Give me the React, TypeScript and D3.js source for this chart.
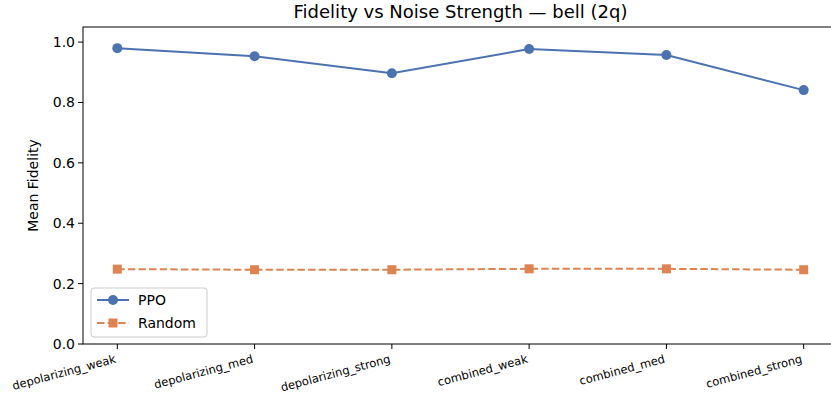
import React from "react";
import * as d3 from "d3";

const categories = [
  "depolarizing_weak",
  "depolarizing_med",
  "depolarizing_strong",
  "combined_weak",
  "combined_med",
  "combined_strong",
];
const ppoValues = [0.98, 0.953, 0.897, 0.977, 0.957, 0.841];
const randomValues = [0.248, 0.246, 0.246, 0.249, 0.249, 0.246];
const yTicks = [0.0, 0.2, 0.4, 0.6, 0.8, 1.0];

const W = 831;
const H = 404;
const M = { left: 83, right: 838, top: 27, bottom: 344 };
const BLUE = "#4C72B0";
const ORANGE = "#DD8452";
const FONT = "DejaVu Sans, sans-serif";

export default function App() {
  const x = d3
    .scaleLinear()
    .domain([-0.25, categories.length - 1 + 0.25])
    .range([M.left, M.right]);
  const y = d3.scaleLinear().domain([0, 1.05]).range([M.bottom, M.top]);

  const line = d3
    .line<number>()
    .x((_, i) => x(i))
    .y((d) => y(d));

  return (
    <svg
      width={W}
      height={H}
      style={{ position: "absolute", left: 0, top: 0, background: "#fff" }}
      fontFamily={FONT}
    >
      <rect x={0} y={0} width={W} height={H} fill="#fff" />
      {/* title */}
      <text x={(M.left + M.right) / 2} y={18} textAnchor="middle" fontSize={18} fill="#000">
        Fidelity vs Noise Strength — bell (2q)
      </text>

      {/* y axis ticks */}
      {yTicks.map((t) => (
        <g key={t}>
          <line x1={M.left - 5} x2={M.left} y1={y(t)} y2={y(t)} stroke="#000" strokeWidth={1} />
          <text x={M.left - 8} y={y(t)} dy="0.35em" textAnchor="end" fontSize={14} fill="#000">
            {t.toFixed(1)}
          </text>
        </g>
      ))}
      <text
        transform={`translate(38,${(M.top + M.bottom) / 2}) rotate(-90)`}
        textAnchor="middle"
        fontSize={14}
        fill="#000"
      >
        Mean Fidelity
      </text>

      {/* x axis ticks */}
      {categories.map((c, i) => (
        <g key={c}>
          <line x1={x(i)} x2={x(i)} y1={M.bottom} y2={M.bottom + 5} stroke="#000" strokeWidth={1} />
          <text
            transform={`translate(${x(i) - 3},${M.bottom + 10}) rotate(-15)`}
            textAnchor="end"
            dy="0.75em"
            fontSize={11.5}
            fill="#000"
          >
            {c}
          </text>
        </g>
      ))}

      {/* series */}
      <path d={line(randomValues) || ""} fill="none" stroke={ORANGE} strokeWidth={2} strokeDasharray="7.4,3.2" />
      {randomValues.map((v, i) => (
        <rect key={i} x={x(i) - 4.5} y={y(v) - 4.5} width={9} height={9} fill={ORANGE} />
      ))}
      <path d={line(ppoValues) || ""} fill="none" stroke={BLUE} strokeWidth={2} />
      {ppoValues.map((v, i) => (
        <circle key={i} cx={x(i)} cy={y(v)} r={5} fill={BLUE} />
      ))}

      {/* frame */}
      <rect
        x={M.left}
        y={M.top}
        width={M.right - M.left}
        height={M.bottom - M.top}
        fill="none"
        stroke="#000"
        strokeWidth={1}
      />

      {/* legend */}
      <g>
        <rect x={91} y={288} width={116} height={49} rx={3} fill="#fff" fillOpacity={0.8} stroke="#ccc" />
        <line x1={97} x2={129} y1={300} y2={300} stroke={BLUE} strokeWidth={2} />
        <circle cx={113} cy={300} r={5} fill={BLUE} />
        <text x={138} y={300} dy="0.35em" fontSize={14} fill="#000">PPO</text>
        <line x1={97} x2={129} y1={323} y2={323} stroke={ORANGE} strokeWidth={2} strokeDasharray="7.4,3.2" />
        <rect x={108.5} y={318.5} width={9} height={9} fill={ORANGE} />
        <text x={138} y={323} dy="0.35em" fontSize={14} fill="#000">Random</text>
      </g>
    </svg>
  );
}
